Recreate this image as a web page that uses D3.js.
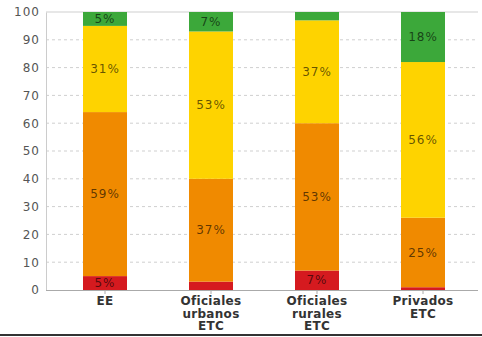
<!DOCTYPE html>
<html><head><meta charset="utf-8">
<script src="https://cdn.jsdelivr.net/npm/d3@7"></script>
<style>body{margin:0;background:#fff}svg{display:block}</style>
</head><body>
<svg id="c" width="482" height="337"></svg>
<script>
const categories = [["EE"], ["Oficiales","urbanos","ETC"], ["Oficiales","rurales","ETC"], ["Privados","ETC"]];
const seriesNames = ["rojo","naranja","amarillo","verde"];
const rojo     = [5, 3, 7, 1];
const naranja  = [59, 37, 53, 25];
const amarillo = [31, 53, 37, 56];
const verde    = [5, 7, 3, 18];
const showLabel = [[true,true,true,true],[false,true,true,true],[true,true,true,false],[false,true,true,true]];
const yTicks = [0,10,20,30,40,50,60,70,80,90,100];
const colors = ["#d51a1f","#f08a00","#fed300","#3ca83a"];

const svg = d3.select("#c");
const x = d3.scaleBand().domain(d3.range(categories.length)).range([52, 476]).paddingInner(0.585).paddingOuter(0.2925);
const y = d3.scaleLinear().domain([0,100]).range([290, 12]);

svg.append("g").selectAll("line").data(yTicks.filter(d=>d>0)).join("line")
  .attr("x1", 46).attr("x2", 478).attr("y1", d=>y(d)).attr("y2", d=>y(d))
  .attr("stroke", "#cfcfcf").attr("stroke-width", 1).attr("stroke-dasharray", d=>d===100?null:"3,3");

const ya = svg.append("g").attr("transform","translate(46,0)")
  .call(d3.axisLeft(y).tickValues(yTicks).tickSize(0).tickPadding(6));
ya.select(".domain").attr("stroke","#cccccc");
ya.selectAll("text").attr("font-family","DejaVu Sans").attr("font-size","12px").attr("letter-spacing","1px").attr("fill","#555");

const table = categories.map((c,i)=>({i, rojo:rojo[i], naranja:naranja[i], amarillo:amarillo[i], verde:verde[i]}));
const stack = d3.stack().keys(seriesNames)(table);

const g = svg.append("g");
stack.forEach((s, si) => {
  g.selectAll(null).data(s).join("rect")
    .attr("x", d=>x(d.data.i)).attr("width", x.bandwidth())
    .attr("y", d=>y(d[1])).attr("height", d=>y(d[0])-y(d[1]))
    .attr("fill", colors[si]);
});
stack.forEach((s, si) => {
  g.selectAll(null).data(s.filter(d=>showLabel[d.data.i][si])).join("text")
    .attr("x", d=>x(d.data.i)+x.bandwidth()/2).attr("y", d=>(y(d[0])+y(d[1]))/2)
    .attr("dy","0.35em").attr("text-anchor","middle")
    .attr("font-family","DejaVu Sans").attr("font-size","12px").attr("letter-spacing","1px")
    .attr("fill","rgba(0,0,0,0.62)")
    .text(d=>(d[1]-d[0])+"%");
});

const xa = svg.append("g").attr("transform","translate(0,290)")
  .call(d3.axisBottom(x).tickSize(4).tickFormat(""));
xa.select(".domain").attr("stroke","#aaaaaa").attr("d","M46,0.5H478");
xa.selectAll(".tick line").attr("stroke","#aaaaaa");
xa.selectAll(".tick").each(function(i){
  const t = d3.select(this).append("text").attr("text-anchor","middle")
    .attr("font-family","DejaVu Sans").attr("font-weight","bold").attr("font-size","12px").attr("letter-spacing","0.3px").attr("fill","#333");
  categories[i].forEach((line, k) => {
    t.append("tspan").attr("x",0).attr("y", 15 + k*12.5).text(line);
  });
});

svg.append("rect").attr("x",0).attr("y",334).attr("width",482).attr("height",2).attr("fill","#333");
</script>
</body></html>
